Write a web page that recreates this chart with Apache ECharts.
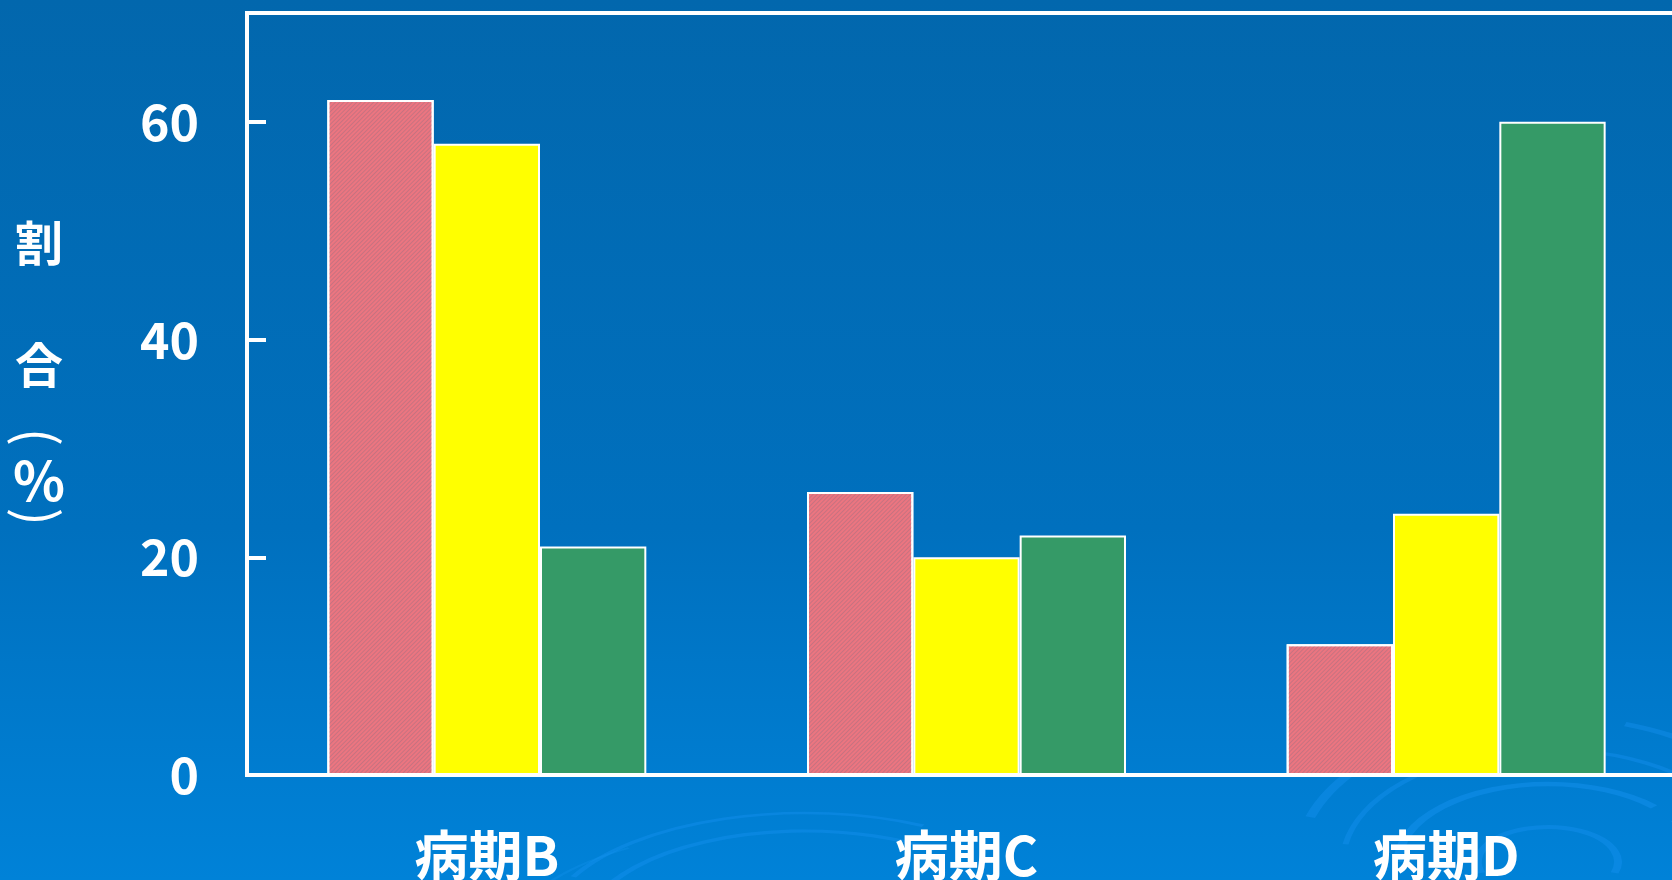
<!DOCTYPE html>
<html>
<head>
<meta charset="utf-8">
<script src="https://cdn.jsdelivr.net/npm/echarts@6/dist/echarts.min.js"></script>
<style>
  html, body { margin: 0; padding: 0; }
  #chart { width: 1672px; height: 880px; }
</style>
</head>
<body>
<div id="chart"></div>
<script>
// Stage categories and the three groups' shares (%)
const categories = ['病期B', '病期C', '病期D'];
const seriesPink = [62, 26, 12];
const seriesYellow = [58, 20, 24];
const seriesGreen = [21, 22, 60];
const yTicks = [0, 20, 40, 60];

const FONT = '"Noto Sans CJK JP", "Noto Sans", sans-serif';
const chart = echarts.init(document.getElementById('chart'));

// decorative ripple rings (flattened circles) in the lower background
function ripple(cx, cy, r, sy, w, a0, a1, op) {
  return {
    type: 'arc', silent: true, z: -5,
    x: cx, y: cy, scaleY: sy,
    shape: { cx: 0, cy: 0, r: r, startAngle: a0, endAngle: a1 },
    style: { stroke: 'rgba(25,150,245,' + op + ')', lineWidth: w, fill: null, strokeNoScale: true }
  };
}
const PI = Math.PI;
const rings = [
  ripple(1548, 862, 70, 0.5, 8, PI * 0.9, PI * 2.1, 0.35),
  ripple(1548, 862, 150, 0.52, 9, PI * 1.0, PI * 1.75, 0.4),
  ripple(1548, 862, 150, 0.52, 9, PI * 1.82, PI * 2.1, 0.4),
  ripple(1548, 862, 205, 0.55, 6, PI * 1.05, PI * 1.45, 0.35),
  ripple(1548, 862, 205, 0.55, 6, PI * 1.55, PI * 2.0, 0.35),
  ripple(1548, 862, 250, 0.58, 10, PI * 1.1, PI * 1.35, 0.35),
  ripple(1548, 862, 250, 0.58, 8, PI * 1.6, PI * 1.95, 0.35),
  ripple(1548, 862, 300, 0.55, 5, PI * 1.7, PI * 1.95, 0.3),
  ripple(805, 930, 260, 0.45, 6, PI * 1.15, PI * 1.65, 0.35),
  ripple(805, 930, 220, 0.45, 7, PI * 1.1, PI * 1.7, 0.35),
  ripple(805, 945, 300, 0.4, 4, PI * 1.05, PI * 1.3, 0.25)
];

// vertical axis title
const titleChars = [
  { t: '割', y: 243, size: 48, rot: 0 },
  { t: '合', y: 365, size: 48, rot: 0 },
  { t: '(', y: 437, size: 54, rot: -PI / 2 },
  { t: '%', y: 480, size: 54, rot: 0 },
  { t: ')', y: 517, size: 54, rot: -PI / 2 }
];
const titleGraphics = titleChars.map(function (c) {
  return {
    type: 'text', silent: true, z: 10,
    x: 39, y: c.y, rotation: c.rot,
    style: {
      text: c.t, fill: '#ffffff',
      font: (c.rot ? 'normal ' : 'bold ') + c.size + 'px ' + FONT,
      align: 'center', verticalAlign: 'middle'
    }
  };
});

const barStyleBase = { borderColor: '#ffffff', borderWidth: 2 };

chart.setOption({
  backgroundColor: {
    type: 'linear', x: 0, y: 0, x2: 0, y2: 1,
    colorStops: [
      { offset: 0, color: '#0267AD' },
      { offset: 0.6, color: '#0070BE' },
      { offset: 1, color: '#0082D8' }
    ]
  },
  animation: false,
  graphic: rings.concat(titleGraphics),
  grid: {
    left: 247, top: 13, width: 1439, bottom: 105,
    outerBoundsMode: 'none',
    containLabel: false,
    show: true, borderColor: '#ffffff', borderWidth: 4,
    backgroundColor: 'transparent'
  },
  xAxis: {
    type: 'category',
    data: categories,
    axisLine: { show: true, lineStyle: { color: '#ffffff', width: 4 } },
    axisTick: { show: false },
    axisLabel: {
      color: '#ffffff', fontSize: 54, fontFamily: FONT, fontWeight: 'bold',
      margin: 53
    }
  },
  yAxis: {
    type: 'value',
    min: 0, max: 70, interval: 20,
    splitLine: { show: false },
    axisLine: { show: true, lineStyle: { color: '#ffffff', width: 4 } },
    axisTick: {
      show: true, inside: true, length: 19,
      lineStyle: { color: '#ffffff', width: 4 }
    },
    axisLabel: {
      color: '#ffffff', fontSize: 50, fontFamily: FONT, fontWeight: 'bold',
      margin: 48,
      formatter: function (v) { return yTicks.indexOf(v) >= 0 ? String(v) : ''; }
    }
  },
  series: [
    {
      type: 'bar', data: seriesPink, barGap: '0%', barCategoryGap: '33.5%',
      itemStyle: Object.assign({
        color: '#EC7580',
        decal: {
          symbol: 'rect', symbolSize: 1,
          color: 'rgba(130,110,130,0.35)',
          dashArrayX: [1, 0], dashArrayY: [1, 2],
          rotation: -PI / 4
        }
      }, barStyleBase)
    },
    {
      type: 'bar', data: seriesYellow,
      itemStyle: Object.assign({ color: '#FFFF00' }, barStyleBase)
    },
    {
      type: 'bar', data: seriesGreen,
      itemStyle: Object.assign({ color: '#359A67' }, barStyleBase)
    }
  ]
});
</script>
</body>
</html>
